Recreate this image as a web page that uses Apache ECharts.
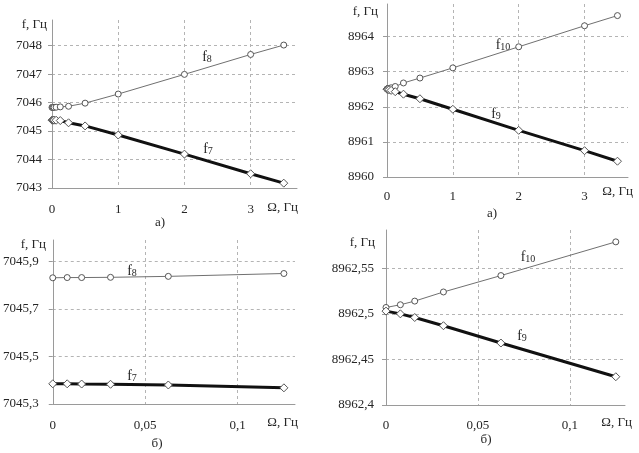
<!DOCTYPE html>
<html>
<head>
<meta charset="utf-8">
<script src="https://cdn.jsdelivr.net/npm/echarts@6/dist/echarts.min.js"></script>
<style>
  html, body { margin: 0; padding: 0; background: #fff; }
  #c { width: 639px; height: 453px; }
</style>
</head>
<body>
<div id="c"></div>
<script>
// Ω, Гц — точки расчёта
const omega = [0, 0.0078125, 0.015625, 0.03125, 0.0625, 0.125, 0.25, 0.5, 1, 2, 3, 3.5];
// частоты, Гц
const f7 = [7045.385, 7045.385, 7045.384, 7045.383, 7045.380, 7045.368, 7045.29, 7045.18, 7044.86, 7044.19, 7043.50, 7043.17];
const f8 = [7045.831, 7045.832, 7045.832, 7045.833, 7045.837, 7045.849, 7045.87, 7045.98, 7046.30, 7046.99, 7047.69, 7048.02];
const f9 = [8962.503, 8962.500, 8962.496, 8962.487, 8962.468, 8962.431, 8962.36, 8962.23, 8961.93, 8961.33, 8960.75, 8960.45];
const f10 = [8962.507, 8962.510, 8962.514, 8962.524, 8962.542, 8962.579, 8962.68, 8962.82, 8963.11, 8963.71, 8964.31, 8964.60];

// деления осей
const xTicksA = [0, 1, 2, 3];
const xTicksB = [0, 0.05, 0.1];
const yTicks1a = [7043, 7044, 7045, 7046, 7047, 7048];
const yTicks2a = [8960, 8961, 8962, 8963, 8964];
const yTicks1b = [7045.3, 7045.5, 7045.7, 7045.9];
const yTicks2b = [8962.4, 8962.45, 8962.5, 8962.55];
const zoomMax = 0.125; // нижние графики — только малые Ω

const FONT = '"Liberation Serif", "Times New Roman", serif';
const INK = '#262626';
const GRID = '#b4b4b4';

const comma = (v) => String(v).replace('.', ',');
const pts = (ys, lim) => omega.map((x, i) => [x, ys[i]]).filter((p) => lim == null || p[0] <= lim + 1e-9);

function xAx(idx, max, ticks, margin) {
  return {
    type: 'value', gridIndex: idx, min: 0, max: max,
    axisLine: { lineStyle: { color: '#9a9a9a', width: 1 } },
    axisTick: { show: false, customValues: ticks },
    axisLabel: { customValues: ticks, formatter: comma, margin: margin, color: INK, fontFamily: FONT, fontSize: 13 },
    splitLine: { show: true, lineStyle: { color: GRID, type: [3, 3], width: 1 } },
  };
}
function yAx(idx, min, max, ticks, margin) {
  return {
    type: 'value', gridIndex: idx, min: min, max: max,
    axisLine: { show: true, onZero: false, lineStyle: { color: '#9a9a9a', width: 1 } },
    axisTick: { show: true, length: 4, customValues: ticks, lineStyle: { color: '#9a9a9a' } },
    axisLabel: { customValues: ticks, formatter: comma, margin: margin, color: INK, fontFamily: FONT, fontSize: 13 },
    splitLine: { show: true, lineStyle: { color: GRID, type: [3, 3], width: 1 } },
  };
}
function thin(idx, data) {
  return {
    type: 'line', xAxisIndex: idx, yAxisIndex: idx, data: data,
    symbol: 'circle', symbolSize: 6, showAllSymbol: true,
    lineStyle: { color: '#707070', width: 1 },
    itemStyle: { color: '#fff', borderColor: '#555', borderWidth: 1 },
    z: 2,
  };
}
function thick(idx, data) {
  return {
    type: 'line', xAxisIndex: idx, yAxisIndex: idx, data: data,
    symbol: 'diamond', symbolSize: 8, showAllSymbol: true,
    lineStyle: { color: '#111', width: 3 },
    itemStyle: { color: '#fff', borderColor: '#555', borderWidth: 1 },
    z: 3,
  };
}
function label(x, y, text, align) {
  return {
    type: 'text', x: x, y: y,
    style: { text: text, font: '13px ' + FONT, fill: INK, fontFamily: FONT, fontSize: 13,
      align: align || 'center', verticalAlign: 'middle', textAlign: align || 'center', textVerticalAlign: 'middle' },
  };
}
function fName(x, y, idx) {
  return {
    type: 'text', x: x, y: y,
    style: {
      text: '{m|f}{s|' + idx + '}', fill: INK, align: 'center', verticalAlign: 'middle', textAlign: 'center', textVerticalAlign: 'middle',
      rich: {
        m: { fontFamily: FONT, fontSize: 14, lineHeight: 14, verticalAlign: 'top', fill: INK, color: INK },
        s: { fontFamily: FONT, fontSize: 10, lineHeight: 10, padding: [8, 0, 0, 0], verticalAlign: 'bottom', fill: INK, color: INK },
      },
    },
  };
}

const chart = echarts.init(document.getElementById('c'), null, { renderer: 'canvas' });
chart.setOption({
  animation: false,
  backgroundColor: '#fff',
  grid: [
    { left: 52, top: 20, width: 245, height: 168 },
    { left: 387, top: 4, width: 241, height: 173 },
    { left: 52, top: 240, width: 243, height: 164 },
    { left: 386, top: 230, width: 239, height: 175 },
  ],
  xAxis: [
    xAx(0, 3.7, xTicksA, 15),
    xAx(1, 3.66, xTicksA, 13),
    xAx(2, 0.131, xTicksB, 15),
    xAx(3, 0.13, xTicksB, 14),
  ],
  yAxis: [
    yAx(0, 7043, 7048.9, yTicks1a, 10),
    yAx(1, 8960, 8964.93, yTicks2a, 13),
    yAx(2, 7045.3, 7045.99, yTicks1b, 14),
    yAx(3, 8962.4, 8962.592, yTicks2b, 12),
  ],
  series: [
    thin(0, pts(f8)), thick(0, pts(f7)),
    thin(1, pts(f10)), thick(1, pts(f9)),
    thin(2, pts(f8, zoomMax)), thick(2, pts(f7, zoomMax)),
    thin(3, pts(f10, zoomMax)), thick(3, pts(f9, zoomMax)),
  ],
  graphic: [
    label(47, 25, 'f, Гц', 'right'),
    label(378, 12, 'f, Гц', 'right'),
    label(46, 245, 'f, Гц', 'right'),
    label(375, 243, 'f, Гц', 'right'),
    label(298, 208, 'Ω, Гц', 'right'),
    label(633, 192, 'Ω, Гц', 'right'),
    label(298, 423, 'Ω, Гц', 'right'),
    label(632, 423, 'Ω, Гц', 'right'),
    label(160, 223, 'а)'),
    label(492, 214, 'а)'),
    label(157, 444, 'б)'),
    label(486, 440, 'б)'),
    fName(207, 57, 8), fName(208, 149, 7),
    fName(503, 45, 10), fName(496, 114, 9),
    fName(132, 271, 8), fName(132, 376, 7),
    fName(528, 257, 10), fName(522, 336, 9),
  ],
});
</script>
</body>
</html>
